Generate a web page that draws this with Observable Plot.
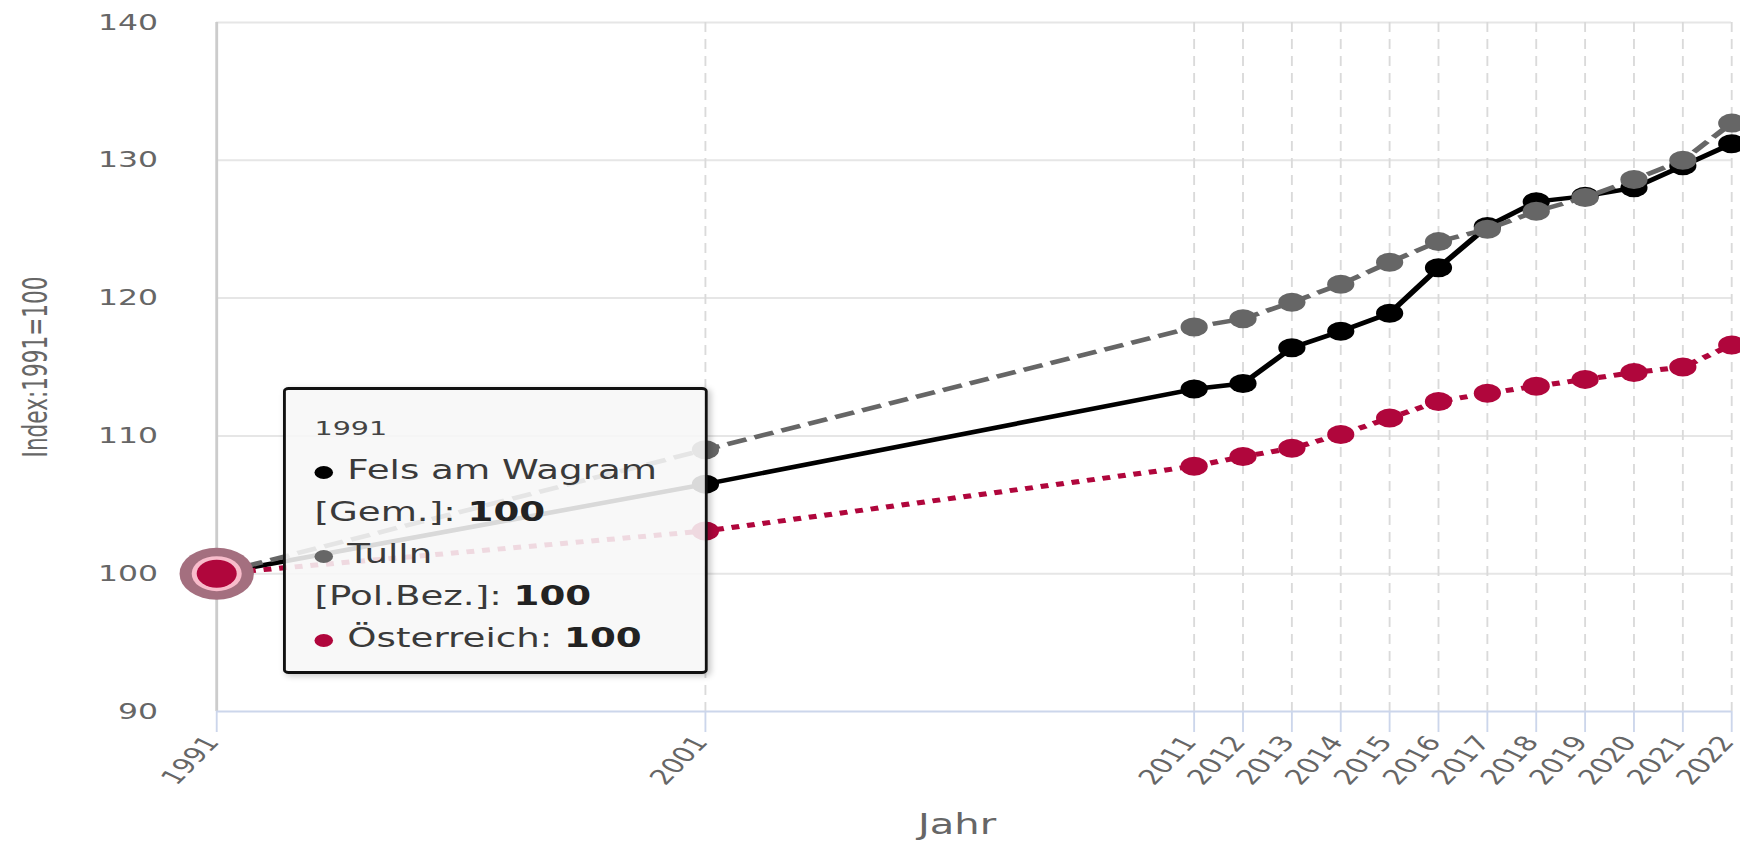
<!DOCTYPE html>
<html>
<head>
<meta charset="utf-8">
<script src="https://cdn.jsdelivr.net/npm/d3@7"></script>
<script src="https://cdn.jsdelivr.net/npm/@observablehq/plot@0.6"></script>
<style>
  html, body { margin: 0; padding: 0; background: #fff; overflow: hidden; }
  #wrap { position: relative; width: 1740px; height: 843px; }
  #wrap svg { display: block; }
  #tip {
    position: absolute; left: 283px; top: 387px;
    width: 296.5px; height: 287px;
    transform: scaleX(1.43); transform-origin: 0 0;
    box-sizing: border-box;
    background: rgba(247,247,247,0.88);
    border: 3.5px solid #111; border-left-width: 2.6px; border-right-width: 2.6px;
    border-radius: 4px;
    box-shadow: 2px 2px 5px rgba(0,0,0,0.22);
    font-family: "DejaVu Sans", sans-serif; color: #3a3a3a;
    padding: 17px 0 0 20px;
  }
  #tip .h { font-size: 20px; line-height: 42px; height: 42px; color: #444; }
  #tip .l { font-size: 26px; line-height: 42px; height: 42px; white-space: nowrap; }
  #tip .l b { color: #222; }
  #tip .dot { display: inline-block; width: 13px; height: 13px; border-radius: 50%; margin-right: 10px; }
</style>
</head>
<body>
<div id="wrap"></div>
<script>
// ---- data ----
const years = [1991, 2001, 2011, 2012, 2013, 2014, 2015, 2016, 2017, 2018, 2019, 2020, 2021, 2022];
const fels = [100, 106.5, 113.4, 113.8, 116.4, 117.6, 118.9, 122.2, 125.2, 127.0, 127.4, 128.0, 129.6, 131.2];
const tulln = [100, 109.0, 117.9, 118.5, 119.7, 121.0, 122.6, 124.1, 125.0, 126.3, 127.3, 128.6, 130.0, 132.7];
const oesterreich = [100, 103.1, 107.8, 108.5, 109.1, 110.1, 111.3, 112.5, 113.1, 113.6, 114.1, 114.6, 115.0, 116.6];
const seriesNames = ["Fels am Wagram [Gem.]", "Tulln [Pol.Bez.]", "Österreich"];
const seriesColors = ["#000000", "#666666", "#b0063c"];
const yTicks = [90, 100, 110, 120, 130, 140];
const yTitle = "Index:1991=100";
const xTitle = "Jahr";
const hoverYear = 1991;

// ---- layout (drawn narrow, then stretched horizontally like the reference) ----
const SX = 1.43;
const W0 = 1740 / SX;
const H = 843;
const mLeft = 216 / SX;
const mRight = W0 - 1731 / SX;

const seriesValues = [fels, tulln, oesterreich];
const rows = [];
seriesValues.forEach((vals, s) => years.forEach((yr, i) => rows.push({year: yr, value: vals[i], series: seriesNames[s]})));
const bySeries = seriesNames.map(n => rows.filter(r => r.series === n));
const dashes = [null, "14,6", "5.5,5.5"];
const widths = [4.5, 4.5, 5];

const seriesMarks = [];
bySeries.forEach((data, s) => {
  seriesMarks.push(Plot.line(data, {x: "year", y: "value", stroke: seriesColors[s], strokeWidth: widths[s],
    strokeDasharray: dashes[s] || undefined, strokeLinecap: dashes[s] ? "butt" : "round", strokeLinejoin: "round"}));
  seriesMarks.push(Plot.dot(data, {x: "year", y: "value", r: 9.5, fill: seriesColors[s], stroke: "none"}));
});
const hovered = rows.filter(r => r.year === hoverYear && r.series === seriesNames[2]);

const chart = Plot.plot({
  width: W0, height: H,
  marginLeft: mLeft, marginRight: mRight, marginTop: 22, marginBottom: H - 711,
  style: {fontFamily: "DejaVu Sans, sans-serif", background: "white", overflow: "visible"},
  x: {type: "linear", domain: [years[0], years[years.length - 1]]},
  y: {domain: [yTicks[0], yTicks[yTicks.length - 1]]},
  marks: [
    Plot.ruleY(yTicks.slice(1), {stroke: "#e6e6e6", strokeWidth: 2}),
    Plot.ruleX(years.slice(1), {stroke: "#dadada", strokeWidth: 1.3, strokeDasharray: "10,7"}),
    Plot.ruleX([years[0]], {stroke: "#cccccc", strokeWidth: 2}),
    Plot.ruleY([yTicks[0]], {stroke: "#ccd6eb", strokeWidth: 2}),
    Plot.axisX(years, {tickSize: 21, stroke: "#ccd6eb", strokeWidth: 1.3, fill: "none", label: null}),
    Plot.axisX(years, {tickFormat: "d", tickRotate: -55, tickSize: 21, tickPadding: 6, dx: -3,
      stroke: "none", fill: "#666", fontSize: 21, label: null}),
    Plot.axisY(yTicks, {tickSize: 0, tickPadding: 41, fill: "#666", fontSize: 22, label: null}),
    ...seriesMarks,
    Plot.dot(hovered, {x: "year", y: "value", r: 26, fill: "#a46f7f", stroke: "none"}),
    Plot.dot(hovered, {x: "year", y: "value", r: 17.5, fill: "#f8bccb", stroke: "none"}),
    Plot.dot(hovered, {x: "year", y: "value", r: 14, fill: seriesColors[2], stroke: "none"}),
    Plot.text([yTitle], {frameAnchor: "left", dx: -126.5, rotate: -90, fontSize: 24, fontFamily: "DejaVu Sans Condensed, DejaVu Sans, sans-serif", fill: "#666", textAnchor: "middle", lineAnchor: "middle"}),
    Plot.text([xTitle], {frameAnchor: "bottom", dx: -12, dy: 114, fontSize: 28, fill: "#666", textAnchor: "middle", lineAnchor: "middle"})
  ]
});

chart.setAttribute("viewBox", `0 0 ${W0} ${H}`);
chart.setAttribute("preserveAspectRatio", "none");
chart.setAttribute("width", 1740);
chart.setAttribute("height", H);
chart.style.width = "1740px";
chart.style.height = H + "px";
chart.style.maxWidth = "none";
const wrap = document.getElementById("wrap");
wrap.appendChild(chart);

// ---- tooltip (shared hover at 1991) ----
const tip = document.createElement("div");
tip.id = "tip";
const idx = years.indexOf(hoverYear);
let html = `<div class="h">${hoverYear}</div>`;
seriesNames.forEach((name, s) => {
  const v = seriesValues[s][idx];
  const dot = `<span class="dot" style="background:${seriesColors[s]}"></span>`;
  const cut = name.indexOf(" [");
  if (cut >= 0) {
    html += `<div class="l">${dot}${name.slice(0, cut)}</div>`;
    html += `<div class="l">${name.slice(cut + 1)}: <b>${v}</b></div>`;
  } else {
    html += `<div class="l">${dot}${name}: <b>${v}</b></div>`;
  }
});
tip.innerHTML = html;
wrap.appendChild(tip);
</script>
</body>
</html>
